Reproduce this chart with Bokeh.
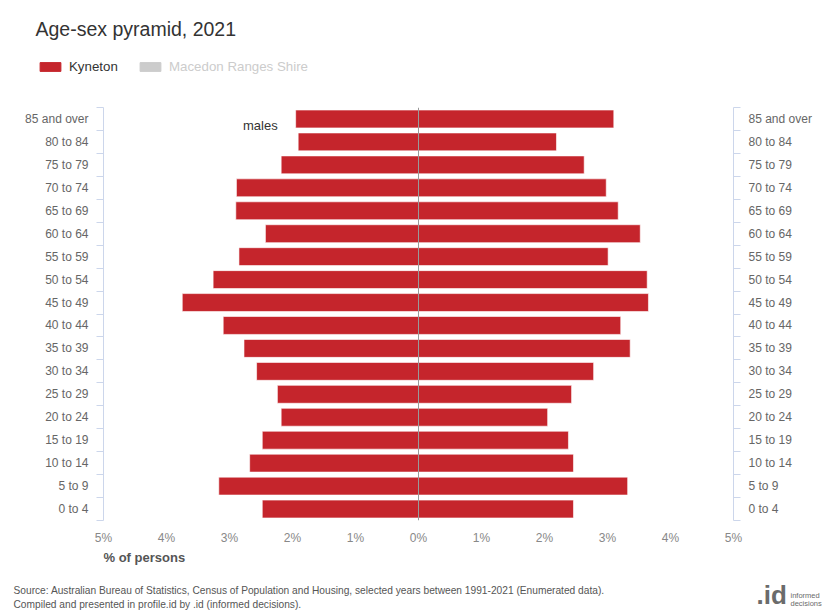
from bokeh.plotting import figure
from bokeh.models import (ColumnDataSource, Range1d, LinearAxis, FixedTicker, Span, Label,
                          Legend, LegendItem)
from bokeh.layouts import column
from bokeh.embed import file_html
from bokeh.resources import INLINE

# ---------------- data ----------------
age_groups = ["0 to 4", "5 to 9", "10 to 14", "15 to 19", "20 to 24", "25 to 29",
              "30 to 34", "35 to 39", "40 to 44", "45 to 49", "50 to 54", "55 to 59",
              "60 to 64", "65 to 69", "70 to 74", "75 to 79", "80 to 84", "85 and over"]
males = [2.48, 3.17, 2.68, 2.48, 2.18, 2.24, 2.57, 2.77, 3.10, 3.75, 3.26, 2.85,
         2.43, 2.90, 2.89, 2.18, 1.91, 1.95]
females = [2.46, 3.32, 2.46, 2.38, 2.05, 2.43, 2.78, 3.36, 3.21, 3.65, 3.63, 3.01,
           3.52, 3.17, 2.98, 2.63, 2.19, 3.10]
x_ticks = [-5, -4, -3, -2, -1, 0, 1, 2, 3, 4, 5]
x_tick_labels = ["5%", "4%", "3%", "2%", "1%", "0%", "1%", "2%", "3%", "4%", "5%"]
series_names = ["Kyneton", "Macedon Ranges Shire"]

FONT = "Liberation Sans"
RED = "#c5252c"
W = 822
NAN = float("nan")


def bare(fig):
    fig.outline_line_color = None
    fig.xgrid.visible = False
    fig.ygrid.visible = False
    fig.background_fill_color = "white"
    fig.border_fill_color = "white"
    return fig


# ---------------- header (title + legend) ----------------
HH = 100
head = bare(figure(width=W, height=HH, output_backend="svg", toolbar_location=None,
                   x_range=Range1d(0, W), y_range=Range1d(HH, 0),
                   x_axis_location=None, y_axis_location=None,
                   min_border=0, min_border_left=0, min_border_right=0,
                   min_border_top=0, min_border_bottom=0, frame_align=False))
legend_only = dict(y=[NAN], left=[NAN], right=[NAN])
h_red = head.hbar(y="y", left="left", right="right", height=1,
                  source=ColumnDataSource(legend_only), fill_color=RED, line_color=RED)
h_gray = head.hbar(y="y", left="left", right="right", height=1,
                   source=ColumnDataSource(legend_only), fill_color="#cccccc", line_color="#cccccc")
head.add_layout(Label(x=35, y=28, text="Age-sex pyramid, 2021", text_font=FONT,
                      text_font_size="19.5px", text_color="#333333", text_baseline="middle"))
for name, rend, loc, col in ((series_names[0], h_red, (37, 26), "#333333"),
                             (series_names[1], h_gray, (137, 26), "#cccccc")):
    lg = Legend(items=[LegendItem(label=name, renderers=[rend])], location=loc,
                orientation="horizontal", padding=0, margin=0, spacing=0,
                glyph_width=26, glyph_height=11, label_standoff=6, label_height=11,
                label_text_font=FONT, label_text_font_size="13.3px", label_text_color=col,
                border_line_color=None, background_fill_alpha=0)
    head.add_layout(lg, "center")

# ---------------- main pyramid ----------------
pos = [i + 0.5 for i in range(len(age_groups))]
src_m = ColumnDataSource(dict(y=pos, left=[-v for v in males], right=[0] * len(males)))
src_f = ColumnDataSource(dict(y=pos, left=[0] * len(females), right=females))

MH = 448
p = bare(figure(width=W, height=MH, output_backend="svg", toolbar_location=None,
                x_range=Range1d(-5, 5), y_range=Range1d(0, len(age_groups)),
                x_axis_location=None, y_axis_location=None,
                min_border_left=103, min_border_right=89, min_border_top=7, min_border_bottom=28))

p.hbar(y="y", left="left", right="right", height=0.78, source=src_m,
       fill_color=RED, line_color="white", line_alpha=0.6, line_width=1)
p.hbar(y="y", left="left", right="right", height=0.78, source=src_f,
       fill_color=RED, line_color="white", line_alpha=0.6, line_width=1)
p.add_layout(Span(location=0, dimension="height", line_color="#999999", line_width=1))

overrides = {pv: g for pv, g in zip(pos, age_groups)}
boundaries = list(range(len(age_groups) + 1))
for side in ("left", "right"):
    ax = LinearAxis(ticker=FixedTicker(ticks=pos, minor_ticks=boundaries),
                    major_label_overrides=overrides)
    ax.axis_line_color = "#ccd6eb"
    ax.minor_tick_line_color = "#ccd6eb"
    ax.minor_tick_out = 7
    ax.minor_tick_in = 0
    ax.major_tick_out = 0
    ax.major_tick_in = 0
    ax.major_tick_line_color = None
    ax.major_label_standoff = 8
    ax.major_label_text_font = FONT
    ax.major_label_text_font_size = "12px"
    ax.major_label_text_color = "#666666"
    p.add_layout(ax, side)

xax = LinearAxis(ticker=FixedTicker(ticks=x_ticks),
                 major_label_overrides={t: l for t, l in zip(x_ticks, x_tick_labels)})
xax.axis_line_color = None
xax.major_tick_line_color = None
xax.minor_tick_line_color = None
xax.major_label_standoff = 4
xax.major_label_text_font = FONT
xax.major_label_text_font_size = "12px"
xax.major_label_text_color = "#888888"
p.add_layout(xax, "below")

p.add_layout(Label(x=-2.51, y=17.22, text="males", text_font=FONT, text_font_size="13px",
                   text_color="#333333", text_baseline="middle", text_align="center"))

# ---------------- footer ----------------
FH = 614 - HH - MH
foot = bare(figure(width=W, height=FH, output_backend="svg", toolbar_location=None,
                   x_range=Range1d(0, W), y_range=Range1d(FH, 0),
                   x_axis_location=None, y_axis_location=None,
                   min_border=0, min_border_left=0, min_border_right=0,
                   min_border_top=0, min_border_bottom=0, frame_align=False))
foot.add_layout(Label(x=103, y=9, text="% of persons", text_font=FONT, text_font_size="13px",
                      text_font_style="bold", text_color="#555555", text_baseline="middle"))
foot.add_layout(Label(x=13, y=42, text="Source: Australian Bureau of Statistics, Census of Population and Housing, selected years between 1991-2021 (Enumerated data).",
                      text_font=FONT, text_font_size="10.2px", text_color="#555555", text_baseline="middle"))
foot.add_layout(Label(x=13, y=56, text="Compiled and presented in profile.id by .id (informed decisions).",
                      text_font=FONT, text_font_size="10.2px", text_color="#555555", text_baseline="middle"))
foot.add_layout(Label(x=756, y=46, text=".id", text_font=FONT, text_font_size="26px",
                      text_font_style="bold", text_color="#6b6b6b", text_baseline="middle"))
foot.add_layout(Label(x=790, y=47, text="informed", text_font=FONT, text_font_size="7.5px",
                      text_color="#6b6b6b", text_baseline="middle"))
foot.add_layout(Label(x=790, y=55, text="decisions", text_font=FONT, text_font_size="7.5px",
                      text_color="#6b6b6b", text_baseline="middle"))

layout = column(head, p, foot, spacing=0)
open("out.html", "w").write(file_html(layout, INLINE))
